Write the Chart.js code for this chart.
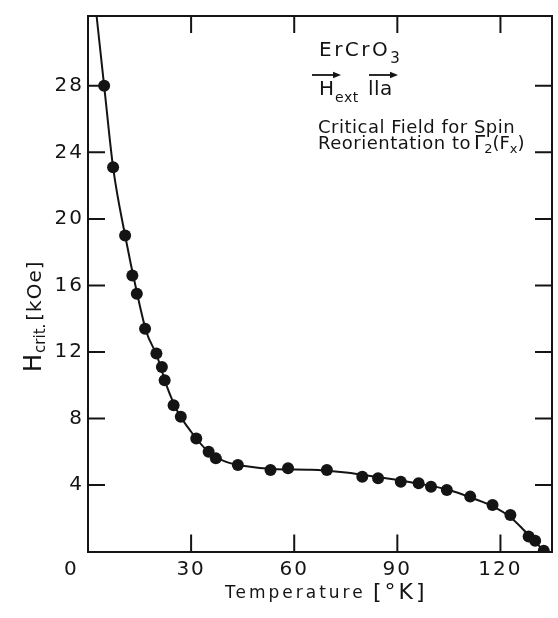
<!DOCTYPE html>
<html><head><meta charset="utf-8">
<script src="https://cdn.jsdelivr.net/npm/chart.js@4.4.1/dist/chart.umd.min.js"></script>
<style>html,body{margin:0;padding:0;background:#fff}#wrap{width:558px;height:618px}canvas{display:block}</style>
</head><body><div id="wrap"><canvas id="c" width="558" height="618"></canvas></div>
<script>
// measured points (temperature in K, critical field in kOe)
const temperatureK = [4.7,7.3,10.8,12.9,14.2,16.6,19.9,21.5,22.3,24.9,27.0,31.5,35.1,37.2,43.6,53.1,58.2,69.5,79.8,84.4,91.0,96.2,99.8,104.4,111.2,117.7,122.9,128.2,130.1,132.6];
const hCritKOe     = [28.0,23.1,19.0,16.6,15.5,13.4,11.9,11.1,10.3,8.8,8.1,6.8,6.0,5.6,5.2,4.9,5.0,4.9,4.5,4.4,4.2,4.1,3.9,3.7,3.3,2.8,2.2,0.9,0.65,0.05];
// drawn smooth curve
const curveT = [2.5,4.7,7.3,10.8,14.2,17,20,23,26,30,35,40,45,55,65,75,85,95,105,112,118,123,127,130,132.6];
const curveH = [32.2,28.0,23.1,19.0,15.6,13.2,11.8,9.9,8.45,7.2,6.0,5.4,5.15,4.95,4.92,4.75,4.45,4.12,3.7,3.2,2.7,2.05,1.25,0.6,0.05];
// tick labels
const xTicks = [0,30,60,90,120];
const yTicks = [4,8,12,16,20,24,28];

const INK = '#141414';
const FONT = "'DejaVu Sans', sans-serif";

function txt(ctx, s, x, y, size, spacing) {
  ctx.font = size + 'px ' + FONT;
  ctx.letterSpacing = (spacing || 0) + 'px';
  ctx.fillText(s, x, y);
  return x + ctx.measureText(s).width;
}
function arrow(ctx, x1, x2, y) {
  ctx.beginPath(); ctx.moveTo(x1, y); ctx.lineTo(x2 - 4, y); ctx.stroke();
  ctx.beginPath(); ctx.moveTo(x2, y); ctx.lineTo(x2 - 8, y - 3.2); ctx.lineTo(x2 - 8, y + 3.2); ctx.closePath(); ctx.fill();
}

const framePlugin = {
  id: 'frame',
  beforeDraw(chart) { chart.ctx.letterSpacing = '2px'; },
  afterDraw(chart) {
    const {ctx, chartArea: a, scales: {x, y}} = chart;
    ctx.save();
    ctx.letterSpacing = '0px';
    ctx.strokeStyle = INK; ctx.fillStyle = INK; ctx.lineWidth = 2;
    ctx.beginPath();
    ctx.moveTo(a.left, a.top); ctx.lineTo(a.right, a.top); ctx.lineTo(a.right, a.bottom);
    const L = 17;
    x.ticks.forEach(t => {
      if (t.value <= 0) return;
      const px = x.getPixelForValue(t.value);
      ctx.moveTo(px, a.bottom); ctx.lineTo(px, a.bottom - L);
      ctx.moveTo(px, a.top); ctx.lineTo(px, a.top + L);
    });
    y.ticks.forEach(t => {
      const py = y.getPixelForValue(t.value);
      ctx.moveTo(a.left, py); ctx.lineTo(a.left + L, py);
      ctx.moveTo(a.right, py); ctx.lineTo(a.right - L, py);
    });
    ctx.stroke();

    ctx.textBaseline = 'alphabetic'; ctx.textAlign = 'left';
    // x-axis title
    txt(ctx, 'Temperature', 225, 598, 17, 3);
    txt(ctx, '[°K]', 373, 599, 22, 3);

    // y-axis title, rotated
    ctx.save();
    ctx.translate(41, 372); ctx.rotate(-Math.PI / 2);
    let e = txt(ctx, 'H', 0, 0, 24, 0);
    e = txt(ctx, 'crit.', e + 1, 4, 15, 0);
    txt(ctx, '[kOe]', e + 3, 0, 20, 1);
    ctx.restore();

    // annotations
    e = txt(ctx, 'ErCrO', 319, 56, 20, 2.5);
    txt(ctx, '3', e, 63, 15, 0);
    e = txt(ctx, 'H', 319, 95, 20, 0);
    txt(ctx, 'ext', e + 1, 102, 14, 0.5);
    e = txt(ctx, 'll', 368, 95, 20, 0.5);
    txt(ctx, 'a', e, 95, 20, 0);
    ctx.lineWidth = 1.8;
    arrow(ctx, 312, 341, 75);
    arrow(ctx, 369, 398, 75);
    txt(ctx, 'Critical Field for Spin', 318, 133, 18, 0.5);
    e = txt(ctx, 'Reorientation to', 318, 149, 18, 0.5);
    e = txt(ctx, 'Γ', e + 3, 149, 20, 0);
    e = txt(ctx, '2', e - 1, 153, 13, 0);
    e = txt(ctx, '(F', e, 149, 18, 0);
    e = txt(ctx, 'x', e, 153, 13, 0);
    txt(ctx, ')', e, 149, 18, 0);
    ctx.restore();
  }
};

const pts = temperatureK.map((t, i) => ({x: t, y: hCritKOe[i]}));
const curve = curveT.map((t, i) => ({x: t, y: curveH[i]}));

new Chart(document.getElementById('c'), {
  type: 'scatter',
  data: {
    datasets: [
      { label: 'curve', type: 'line', data: curve, borderColor: INK, borderWidth: 2, pointRadius: 0,
        tension: 0.4, cubicInterpolationMode: 'monotone', fill: false, order: 2 },
      { label: 'H crit', data: pts, backgroundColor: INK, borderColor: INK, pointRadius: 6, borderWidth: 0, order: 1 }
    ]
  },
  options: {
    responsive: false, animation: false, devicePixelRatio: 1,
    layout: { padding: { top: 13.5, right: 3, left: 0, bottom: 0 } },
    plugins: { legend: { display: false }, tooltip: { enabled: false } },
    scales: {
      x: {
        type: 'linear', min: 0, max: 135,
        afterBuildTicks: s => { s.ticks = xTicks.map(v => ({value: v})); },
        afterFit: s => { s.height = 66.5; },
        grid: { display: false, drawTicks: false },
        border: { display: true, color: INK, width: 2 },
        ticks: { color: INK, font: { family: FONT, size: 20 }, padding: 6, maxRotation: 0, autoSkip: false,
                 callback: v => v === 0 ? '0    ' : String(v) }
      },
      y: {
        type: 'linear', min: 0, max: 32.2,
        afterBuildTicks: s => { s.ticks = yTicks.map(v => ({value: v})); },
        afterFit: s => { s.width = 88; },
        grid: { display: false, drawTicks: false },
        border: { display: true, color: INK, width: 2 },
        ticks: { color: INK, font: { family: FONT, size: 20 }, padding: 4, autoSkip: false,
                 callback: v => String(v) }
      }
    }
  },
  plugins: [framePlugin]
});
</script>
</body></html>
